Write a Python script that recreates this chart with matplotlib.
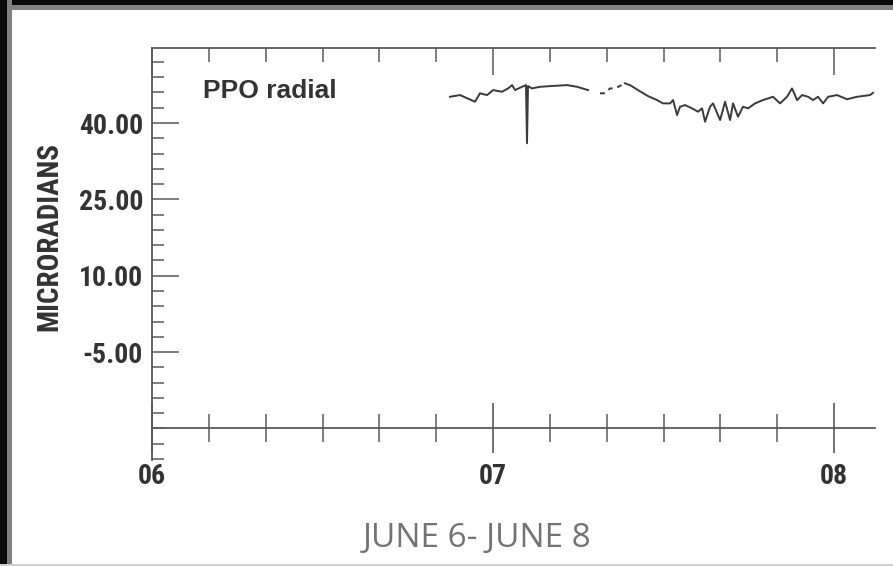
import matplotlib
matplotlib.use("Agg")
import matplotlib.pyplot as plt
from matplotlib.patches import Rectangle
from matplotlib.ticker import FixedLocator, MultipleLocator

# PPO radial tilt record, hours since 00:00 June 6 -> microradians
trace_a_hours = [20.97, 21.68, 22.73, 23.08, 23.58, 24.00, 24.63, 25.06, 25.34, 25.55,
                 26.04, 26.32, 26.39, 26.46, 26.74, 27.31, 28.01, 29.21, 29.91, 30.69]
trace_a_vals = [45.16, 45.49, 44.18, 45.84, 45.49, 46.47, 46.14, 46.80, 47.45, 46.47,
                47.12, 47.45, 36.02, 47.25, 46.80, 47.12, 47.25, 47.45, 47.12, 46.47]

# faint, broken stretch of the record
trace_b_hours = [31.53, 31.88, 32.23, 32.59, 33.15, 33.29]
trace_b_vals = [45.84, 45.84, 46.80, 46.80, 47.60, 47.80]

trace_c_hours = [33.29, 33.64, 34.20, 34.91, 35.54, 35.96, 36.46, 36.67, 36.95, 37.16,
                 37.51, 38.01, 38.43, 38.71, 38.92, 39.27, 39.48, 39.98, 40.33, 40.68,
                 40.89, 41.24, 41.59, 41.95, 42.44, 43.00, 43.70, 44.20, 44.69, 45.04,
                 45.40, 45.75, 46.17, 46.52, 46.87, 47.23, 47.58, 48.21, 48.91, 49.62,
                 50.53, 50.74]
trace_c_vals = [47.80, 47.45, 46.47, 45.29, 44.51, 43.86, 43.86, 44.51, 41.57, 43.20,
                43.53, 42.88, 42.22, 42.88, 40.25, 43.20, 43.86, 40.59, 44.18, 40.59,
                43.86, 41.24, 43.20, 42.88, 43.86, 44.51, 45.16, 43.86, 45.16, 46.80,
                44.51, 45.49, 45.16, 44.51, 45.16, 43.86, 45.16, 45.49, 44.67, 45.16,
                45.49, 45.94]

y_major = [40, 25, 10, -5]
y_major_labels = ["40.00", "25.00", "10.00", "-5.00"]
x_major = [0, 24, 48]
x_major_labels = ["06", "07", "08"]

W, H = 893, 566
fig = plt.figure(figsize=(W / 100, H / 100), dpi=100)
fig.patch.set_facecolor("white")

narrow = ["Liberation Sans Narrow", "Roboto Condensed", "DejaVu Sans Condensed",
          "Liberation Sans", "DejaVu Sans"]
ink = "#3a3a3a"
axis_col = "#5a5a5a"
label_kw = dict(family=narrow, weight="bold", stretch="condensed", color="#333333")

ax = fig.add_axes([152 / W, 1 - 460 / H, (875 - 152) / W, (460 - 48) / H])
ax.set_xlim(0, 50.88)
ax.set_ylim(-26.2, 54.74)

# axis lines
for s in ["right", "top"]:
    ax.spines[s].set_visible(False)
ax.spines["left"].set_color(axis_col)
ax.spines["left"].set_linewidth(1.3)
ax.spines["bottom"].set_position(("data", -20))
ax.spines["bottom"].set_color(axis_col)
ax.spines["bottom"].set_linewidth(1.3)

# y ticks
ax.yaxis.set_major_locator(FixedLocator(y_major))
ax.set_yticklabels(y_major_labels, fontsize=20, **label_kw)
ax.yaxis.set_minor_locator(FixedLocator([v for v in range(-26, 55, 3) if v not in y_major]))
ax.tick_params(axis="y", which="major", direction="in", length=19.5, width=1.1,
               color=axis_col, pad=6.5)
ax.tick_params(axis="y", which="minor", direction="in", length=8.5, width=1.1, color=axis_col)

# x ticks on the -20 baseline
ax.xaxis.set_major_locator(FixedLocator(x_major))
ax.set_xticklabels(x_major_labels, fontsize=20, **label_kw)
ax.xaxis.set_minor_locator(MultipleLocator(4))
ax.tick_params(axis="x", which="major", direction="inout", length=36, width=1.2,
               color=axis_col, pad=7)
ax.tick_params(axis="x", which="minor", direction="inout", length=19.5, width=1.1,
               color=axis_col)

# top frame with inward ticks
top = ax.secondary_xaxis("top")
top.spines["top"].set_color(axis_col)
top.spines["top"].set_linewidth(1.3)
top.xaxis.set_major_locator(FixedLocator(x_major))
top.xaxis.set_minor_locator(MultipleLocator(4))
top.tick_params(axis="x", which="major", direction="in", length=19.5, width=1.1,
                color=axis_col, labeltop=False)
top.tick_params(axis="x", which="minor", direction="in", length=10, width=1.1,
                color=axis_col)

# the record
ax.plot(trace_a_hours, trace_a_vals, color=ink, lw=1.4, solid_joinstyle="round")
ax.plot(trace_b_hours, trace_b_vals, color=ink, lw=1.4, linestyle=(0, (2.5, 2.5)))
ax.plot(trace_c_hours, trace_c_vals, color=ink, lw=1.4, solid_joinstyle="round")

fig.text(203 / W, 1 - 98 / H, "PPO radial", family=["Liberation Sans", "DejaVu Sans"],
         weight="bold", fontsize=19, color="#333333", ha="left", va="baseline")

fig.text(49 / W, 1 - 236 / H, "MICRORADIANS", fontsize=21, rotation=90,
         ha="center", va="center", **label_kw)

fig.text(477 / W, 1 - 547 / H, "JUNE 6- JUNE 8", family=["Open Sans", "DejaVu Sans"],
         fontsize=24, color="#737373", ha="center", va="baseline")

# frame edges
fig.add_artist(Rectangle((0, 1 - 10 / H), 1, 10 / H, transform=fig.transFigure,
                         facecolor="#808080", edgecolor="none"))
fig.add_artist(Rectangle((0, 1 - 5 / H), 1, 5 / H, transform=fig.transFigure,
                         facecolor="#0a0a0a", edgecolor="none"))
fig.add_artist(Rectangle((0, 0), 12 / W, 1, transform=fig.transFigure,
                         facecolor="#808080", edgecolor="none"))
fig.add_artist(Rectangle((0, 0), 7 / W, 1, transform=fig.transFigure,
                         facecolor="#0a0a0a", edgecolor="none"))
fig.add_artist(Rectangle((0, 0), 1, 2.5 / H, transform=fig.transFigure,
                         facecolor="#cfcfcf", edgecolor="none"))

fig.savefig("out.png", dpi=100, facecolor="white")
